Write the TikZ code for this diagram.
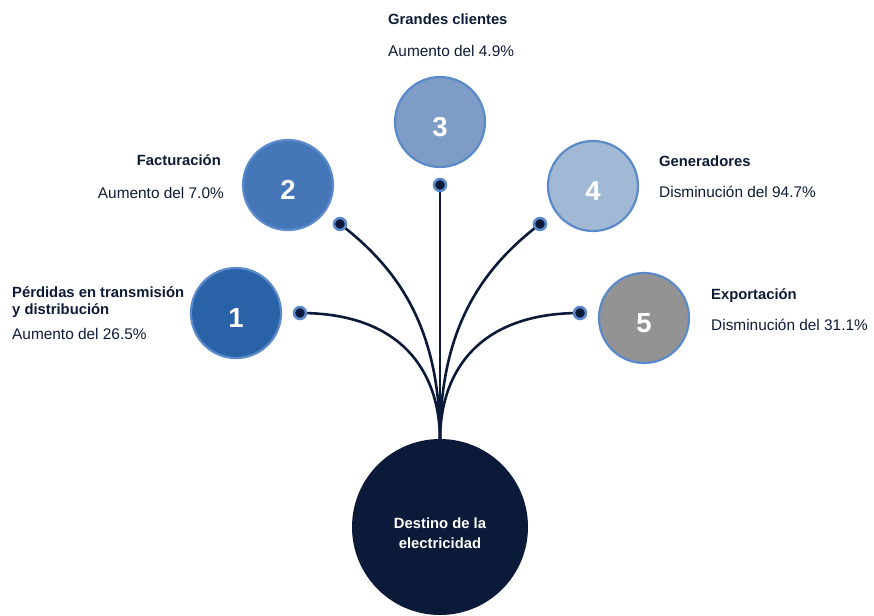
\documentclass[tikz,border=0pt]{standalone}
\usepackage{fontspec}
\setmainfont{Liberation Sans}
\definecolor{navy}{HTML}{0B1A38}
\definecolor{txt}{HTML}{0E1B36}
\definecolor{ring}{HTML}{5B8ACB}
\definecolor{cA}{HTML}{2A62A8}
\definecolor{cB}{HTML}{4476B8}
\definecolor{cC}{HTML}{7F9CC6}
\definecolor{cD}{HTML}{A1B9D4}
\definecolor{cE}{HTML}{939393}
\tikzset{
  numcirc/.style={circle, draw=ring, line width=2.2pt, minimum size=90pt, inner sep=0pt,
    text height=29pt, text depth=0pt,
    text=white, font=\fontsize{27.5}{27.5}\selectfont\bfseries},
  dotnode/.style={circle, fill=navy, draw=ring, line width=2.5pt, minimum size=12pt, inner sep=0pt},
  link/.style={draw=navy, line width=2.6pt},
  ttl/.style={anchor=base west, inner sep=0pt, text=txt, font=\fontsize{14.8}{17}\selectfont\bfseries},
  sub/.style={anchor=base west, inner sep=0pt, text=txt, font=\fontsize{15.4}{17}\selectfont},
}
\begin{document}
\begin{tikzpicture}[x=1pt,y=-1pt]
\useasboundingbox (0,0) rectangle (874,615);
% big circle
\node[circle, fill=navy, minimum size=176pt, inner sep=0pt] (dest) at (440,527) {};
\node[text=white, align=center, inner sep=0pt,
  font=\fontsize{14.8}{19.5}\selectfont\bfseries] (destlbl) at ([yshift=-6pt]dest.center) {Destino de la\\electricidad};
\coordinate (hub) at (440,441);
% numbered circles
\node[numcirc, fill=cA] (c1) at (236,313) {1};
\node[numcirc, fill=cB] (c2) at (288,185) {2};
\node[numcirc, fill=cC] (c3) at (440,122) {3};
\node[numcirc, fill=cD] (c4) at (593,186) {4};
\node[numcirc, fill=cE] (c5) at (644,318) {5};
% dot coordinates
\coordinate (p1) at (300,313);
\coordinate (p2) at (340,224);
\coordinate (p3) at (440,185);
\coordinate (p4) at (540,224);
\coordinate (p5) at (580,313);
% links
\draw[link] (p1) .. controls (400,313) and (440,370) .. (hub);
\draw[link] (p2) .. controls (400,270) and (440,330) .. (hub);
\draw[link] (p3) -- (hub);
\draw[link] (p4) .. controls (480,270) and (440,330) .. (hub);
\draw[link] (p5) .. controls (480,313) and (440,370) .. (hub);
% dots
\node[dotnode] (d1) at (p1) {};
\node[dotnode] (d2) at (p2) {};
\node[dotnode] (d3) at (p3) {};
\node[dotnode] (d4) at (p4) {};
\node[dotnode] (d5) at (p5) {};
% labels
\node[ttl] (t3) at (388,25) {Grandes clientes};
\node[sub] (s3) at (388,57) {Aumento del 4.9\%};
\node[ttl, anchor=base east] (t2) at (221,165) {Facturación};
\node[sub, anchor=base east] (s2) at (224,198) {Aumento del 7.0\%};
\node[ttl] (t1a) at (12,297) {Pérdidas en transmisión};
\node[ttl] (t1b) at (12,314) {y distribución};
\node[sub] (s1) at (12,339) {Aumento del 26.5\%};
\node[ttl] (t4) at (659,166) {Generadores};
\node[sub] (s4) at (659,197) {Disminución del 94.7\%};
\node[ttl] (t5) at (711,299) {Exportación};
\node[sub] (s5) at (711,330) {Disminución del 31.1\%};
\end{tikzpicture}
\end{document}
